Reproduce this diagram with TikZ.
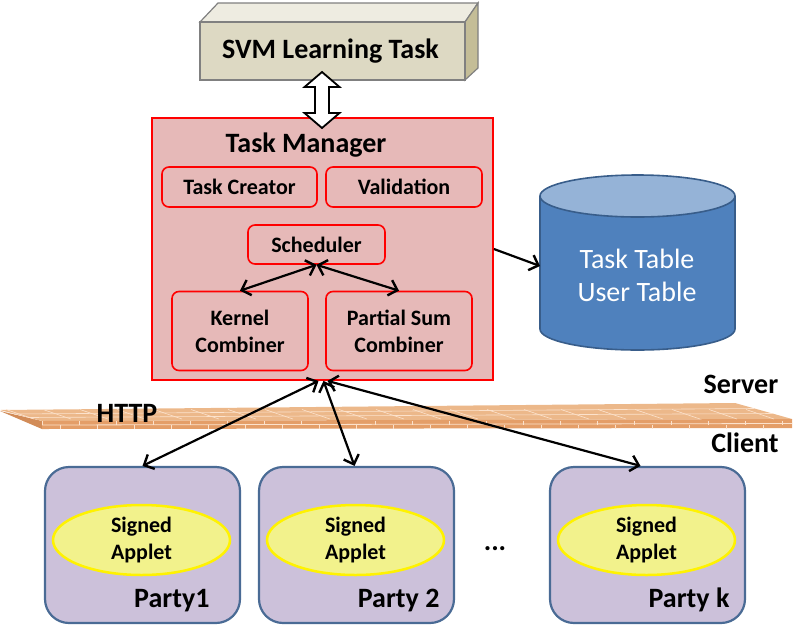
\documentclass[tikz,border=0pt]{standalone}
\usepackage{fontspec}
\setmainfont{Carlito}
\usetikzlibrary{arrows.meta}
\usetikzlibrary{positioning}
\usetikzlibrary{shapes.geometric}
\definecolor{taskred}{RGB}{230,185,184}
\definecolor{svmfront}{RGB}{221,217,195}
\definecolor{svmtop}{RGB}{238,236,225}
\definecolor{svmside}{RGB}{196,189,151}
\definecolor{dbblue}{RGB}{79,129,189}
\definecolor{dbtop}{RGB}{149,179,215}
\definecolor{dbline}{RGB}{56,93,138}
\definecolor{partyfill}{RGB}{204,193,218}
\definecolor{partyline}{RGB}{74,107,149}
\definecolor{appletfill}{RGB}{242,242,140}
\definecolor{brickfront}{RGB}{228,158,104}
\definecolor{bricktop}{RGB}{236,184,138}
\definecolor{brickside}{RGB}{210,140,88}
\definecolor{brickline}{RGB}{252,226,204}
\tikzset{
  bigfont/.style={font=\fontsize{28}{33}\selectfont\bfseries},
  smallfont/.style={font=\fontsize{22}{27}\selectfont\bfseries},
  inbox/.style={draw=red,line width=1.6pt,fill=taskred,rounded corners=7pt,smallfont,align=center,inner sep=0pt},
  party/.style={draw=partyline,line width=2.2pt,fill=partyfill,rounded corners=24pt,minimum width=195pt,minimum height=156pt},
  applet/.style={ellipse,draw=yellow,line width=2.5pt,fill=appletfill,minimum width=177pt,minimum height=70pt,inner sep=0pt,smallfont,align=center},
  link/.style={-{Straight Barb[length=8pt,width=16pt,line width=2.4pt]},line width=2.2pt},
  twolink/.style={{Straight Barb[length=8pt,width=16pt,line width=2.4pt]}-{Straight Barb[length=8pt,width=16pt,line width=2.4pt]},line width=2.2pt},
}
\begin{document}
\begin{tikzpicture}[x=1pt,y=-1pt]
  \useasboundingbox (0,0) rectangle (793,625);
  %SVM TASK BOX
  \draw[fill=svmtop,draw=gray,line width=1.2pt] (200,22) -- (218,3) -- (478,3) -- (465,22) -- cycle;
  \draw[fill=svmside,draw=gray,line width=1.2pt] (465,22) -- (478,3) -- (478,68) -- (465,80) -- cycle;
  \node[draw=gray,fill=svmfront,line width=1.2pt,minimum width=265pt,minimum height=58pt] (svm) at (332.5,51) {};
  \node[bigfont,anchor=base] (svmlabel) at (330.5,58) {SVM Learning Task};

  %TASK MANAGER
  \node[draw=red,line width=1.8pt,fill=taskred,minimum width=341pt,minimum height=262pt] (manager) at (322.5,249) {};
  \node[bigfont,anchor=base] (managerlabel) at (306,152) {Task Manager};
  \node[inbox,minimum width=155pt,minimum height=40pt] (creator) at (239.5,187) {Task Creator};
  \node[inbox,minimum width=156pt,minimum height=40pt] (validation) at (404,187) {Validation};
  \node[inbox,minimum width=137pt,minimum height=39pt] (scheduler) at (316.5,244.5) {Scheduler};
  \node[inbox,minimum width=136pt,minimum height=79pt] (kernel) at (240,331) {Kernel\\Combiner};
  \node[inbox,minimum width=146pt,minimum height=79pt] (partial) at (399,331) {Partial Sum\\Combiner};
  \draw[twolink] (scheduler.south) -- (kernel.north);
  \draw[twolink] (scheduler.south) -- (partial.north);

  %HOLLOW DOUBLE ARROW
  \draw[fill=white,line width=1.8pt] (322,72) -- (339.5,87) -- (329,87) -- (329,113) -- (339.5,113)
    -- (322,128) -- (304.5,113) -- (315,113) -- (315,87) -- (304.5,87) -- cycle;

  %DATABASE
  \draw[fill=dbblue,draw=dbline,line width=1.6pt] (540,196) -- (540,329)
    arc[start angle=180,end angle=0,x radius=97.5,y radius=21] -- (735,196);
  \draw[fill=dbtop,draw=dbline,line width=1.6pt] (637.5,196) ellipse[x radius=97.5,y radius=21];
  \node[font=\fontsize{28}{33}\selectfont,text=white,align=center] (tables) at (637,275) {Task Table\\User Table};
  \coordinate (tablesin) at (540,266);
  \draw[link] (manager.east) -- (tablesin);

  %BRICK WALL
  \fill[brickside] (0,411) -- (42,421) -- (42,429) -- cycle;
  \fill[bricktop] (0,410) -- (735,403) -- (792,419) -- (42,421) -- cycle;
  \fill[brickfront] (42,421) -- (792,419) -- (792,428) -- (42,429) -- cycle;
  \draw[brickline,line width=0.8pt] (42,425) -- (792,423.5);
  \draw[brickline,line width=0.6pt] (14,414) -- (754,408.5) (28,417.5) -- (773,413.5);
  \foreach \x in {42,79,...,792}{
    \draw[brickline,line width=1pt] (\x,421) -- (\x,425);
    \draw[brickline,line width=1pt] (\x+18,425) -- (\x+18,429);
    \draw[brickline,line width=0.6pt] (\x-36,409.5) -- (\x-8,419);
  }
  \node[bigfont,anchor=base] (http) at (127,422) {HTTP};
  \node[bigfont,anchor=base] (server) at (741,393) {Server};
  \node[bigfont,anchor=base] (client) at (745,452) {Client};

  %PARTIES
  \foreach \x/\n in {142.5/1,356.5/2,647.5/k}{
    \node[party] (party\n) at (\x,545) {};
    \node[applet] (applet\n) at (\x-1,540) {Signed\\Applet};
  }
  \node[bigfont,anchor=base east] (label1) at (213,607) {Party1};
  \node[bigfont,anchor=base east] (label2) at (443,607) {Party 2};
  \node[bigfont,anchor=base east] (labelk) at (733,607) {Party k};
  \node[bigfont,anchor=base] (dots) at (495,550) {...};

  %SERVER CLIENT LINKS
  \draw[twolink] ([xshift=-4pt]manager.south) -- (party1.north);
  \draw[twolink] ([xshift=1pt]manager.south) -- ([xshift=-2pt]party2.north);
  \draw[twolink] ([xshift=5pt]manager.south) -- ([xshift=-7pt]partyk.north);
\end{tikzpicture}
\end{document}
